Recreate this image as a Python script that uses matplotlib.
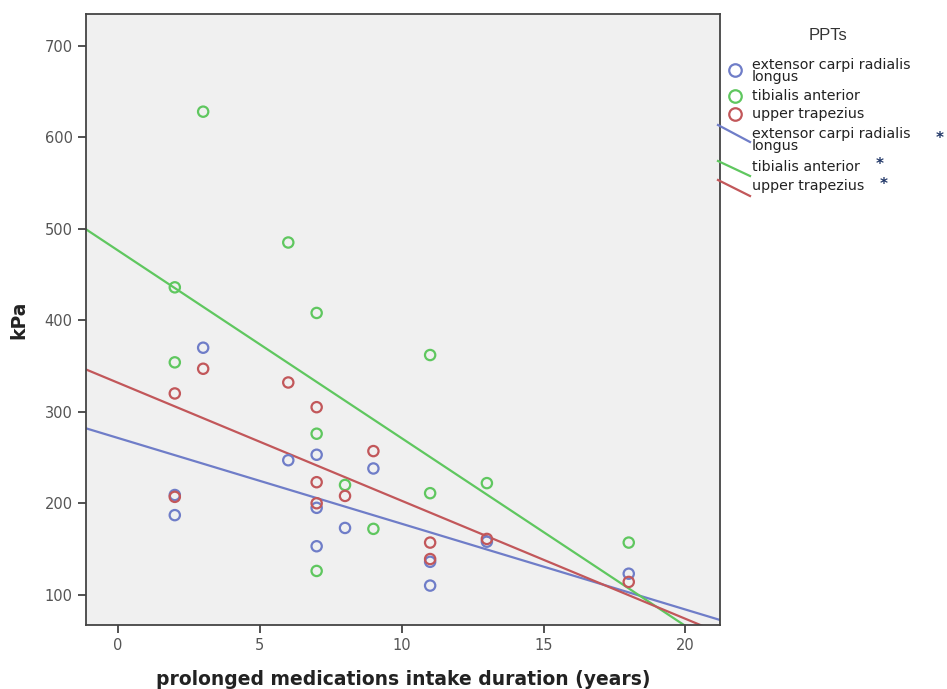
import numpy as np
import matplotlib
matplotlib.use('Agg')
import matplotlib.pyplot as plt
from matplotlib.lines import Line2D

# duration (years) of each subject, same for all three muscles
years = [2, 2, 3, 6, 7, 7, 7, 8, 9, 11, 11, 13, 18]

# pressure pain thresholds (kPa)
ecrl = [209, 187, 370, 247, 253, 195, 153, 173, 238, 136, 110, 158, 123]
tib_ant = [436, 354, 628, 485, 408, 276, 126, 220, 172, 362, 211, 222, 157]
up_trap = [320, 207, 347, 332, 305, 223, 200, 208, 257, 157, 139, 161, 114]

names = ['extensor carpi radialis\nlongus', 'tibialis anterior', 'upper trapezius']
colors = ['#6f7dc8', '#5fc75f', '#c2575a']
x_ticks = [0, 5, 10, 15, 20]
y_ticks = [100, 200, 300, 400, 500, 600, 700]

fig = plt.figure(figsize=(9.47, 6.89), dpi=100)
ax = fig.add_axes([0.0908, 0.093, 0.669, 0.887])
ax.set_facecolor('#f0f0f0')

x = np.array(years)
xs = np.array([-1.13, 21.2])
for vals, c in zip([ecrl, tib_ant, up_trap], colors):
    ax.scatter(x, vals, s=55, facecolors='none', edgecolors=c, linewidths=1.6, zorder=3)
    # least squares fit line for each muscle
    k, b = np.polyfit(x, np.array(vals), 1)
    ax.plot(xs, k * xs + b, color=c, lw=1.6, zorder=2)

ax.set_xlim(-1.13, 21.2)
ax.set_ylim(67, 735)
ax.set_xticks(x_ticks)
ax.set_yticks(y_ticks)
ax.tick_params(direction='out', length=6, width=1.2, color='#333333',
               labelcolor='#555555', labelsize=10.5)
for s in ax.spines.values():
    s.set_color('#444444')
    s.set_linewidth(1.3)

ax.set_xlabel('prolonged medications intake duration (years)', fontsize=13.5,
              fontweight='bold', color='#222222', labelpad=12)
ax.set_ylabel('kPa', fontsize=13.5, fontweight='bold', color='#222222', labelpad=12)

# legend built by hand, outside the axes
W, H = 947.0, 689.0
def fx(px): return px / W
def fy(py): return 1 - py / H

lf = dict(fontsize=10.3, color='#222222', va='center', ha='left')
fig.text(fx(828), fy(35), 'PPTs', fontsize=12, family='Liberation Sans',
         color='#333333', ha='center', va='center')

circ_y = [70, 96, 114]
text_y = [71, 96, 114]
for cy, ty, n, c in zip(circ_y, text_y, names, colors):
    fig.add_artist(Line2D([fx(735)], [fy(cy)], marker='o', ms=9, mfc='none',
                          mec=c, mew=1.6, transform=fig.transFigure))
    fig.text(fx(752), fy(ty), n, linespacing=0.88, **lf)

line_y = [(125, 142), (161, 176), (180, 196)]
ltext_y = [140, 167, 186]
star_x = [940, 880, 884]
for (y0, y1), ty, sx, n, c in zip(line_y, ltext_y, star_x, names, colors):
    fig.add_artist(Line2D([fx(718), fx(750)], [fy(y0), fy(y1)], color=c, lw=1.6,
                          transform=fig.transFigure))
    fig.text(fx(752), fy(ty), n, linespacing=0.88, **lf)
    fig.text(fx(sx), fy(ty - 2), '*', fontsize=11, fontweight='bold', color='#1f3566',
             ha='center', va='center')

fig.savefig('out.png', dpi=100)
